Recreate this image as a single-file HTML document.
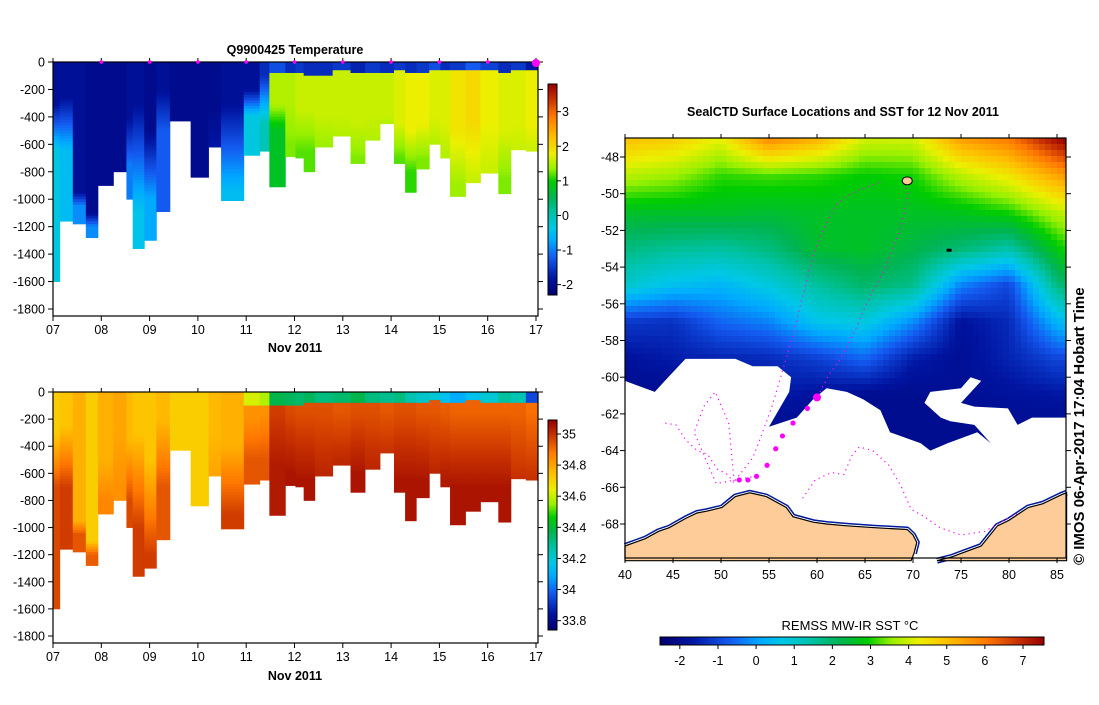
<!DOCTYPE html>
<html><head><meta charset="utf-8">
<style>
body{margin:0;background:#fff;width:1099px;height:700px;overflow:hidden;font-family:"Liberation Sans",sans-serif;}
svg text{font-family:"Liberation Sans",sans-serif;}
</style></head>
<body>
<svg id="root" width="1099" height="700" xmlns="http://www.w3.org/2000/svg">
  <rect x="0" y="0" width="1099" height="700" fill="#fff"/>
  <g id="temp"></g>
  <g id="sal"></g>
  <g id="map"></g>
  <text x="295" y="54" font-size="12.5" font-weight="bold" text-anchor="middle">Q9900425  Temperature</text>
  <text x="843" y="116" font-size="12.5" font-weight="bold" text-anchor="middle">SealCTD Surface Locations and SST for 12 Nov 2011</text>
  <text x="295" y="352" font-size="12.5" font-weight="bold" text-anchor="middle">Nov 2011</text>
  <text x="295" y="680" font-size="12.5" font-weight="bold" text-anchor="middle">Nov 2011</text>
  <text x="850" y="630" font-size="13" text-anchor="middle">REMSS MW-IR SST °C</text>
  <text transform="translate(1084,565) rotate(-90)" font-size="15" font-weight="bold">© IMOS 06-Apr-2017 17:04 Hobart Time</text>
</svg>
<script>
// ---------- data: sections ----------
const profileStart = [7.00,7.14,7.41,7.68,7.93,8.25,8.52,8.65,8.89,9.14,9.42,9.85,10.22,10.48,10.95,11.28,11.48,11.81,12.02,12.19,12.42,12.79,13.16,13.46,13.77,14.06,14.29,14.52,14.79,15.02,15.22,15.54,15.85,16.22,16.48,16.79];
const profileEnd   = [7.14,7.41,7.68,7.93,8.25,8.52,8.65,8.89,9.14,9.42,9.85,10.22,10.48,10.95,11.28,11.48,11.81,12.02,12.19,12.42,12.79,13.16,13.46,13.77,14.06,14.29,14.52,14.79,15.02,15.22,15.54,15.85,16.22,16.48,16.79,17.03];
const maxDepth = [1600,1160,1180,1280,900,800,1000,1360,1300,1090,430,840,620,1010,680,650,910,690,700,800,620,540,740,570,450,740,950,780,600,700,980,880,810,960,640,650];
// temperature: surface layer temp, surface layer thickness, upper temp, deep temp, transition start, transition end
const tSurf  = [-1.9,-1.9,-1.9,-2.0,-2.0,-2.0,-1.9,-1.9,-2.0,-1.9,-2.0,-2.0,-2.0,-1.9,-1.9,-1.6,-1.3,-1.6,-1.5,-1.6,-1.6,-1.5,-1.7,-1.5,-1.6,-1.5,-1.6,-1.5,-1.3,-1.6,-1.5,-1.2,-1.4,-1.6,-1.5,-1.8];
const tSurfD = [0,0,0,0,0,0,0,0,0,0,0,0,0,0,0,60,90,80,80,100,100,70,90,80,80,70,90,90,60,70,60,55,70,80,60,60];
const tUpper = [-1.9,-1.9,-1.9,-2.0,-2.0,-2.0,-1.9,-1.9,-2.0,-1.9,-2.0,-2.0,-2.0,-1.9,-1.9,-1.6,1.5,1.5,1.6,1.6,1.6,1.6,1.6,1.6,1.6,1.7,1.8,1.8,1.7,1.7,1.9,2.0,1.8,1.7,1.7,1.8];
const tDeep  = [-0.3,-0.5,-0.9,-0.9,-2.0,-2.0,-1.0,-0.4,-0.7,-1.2,-2.0,-2.0,-1.8,-0.5,-0.3,0.0,0.8,1.3,1.2,1.2,1.4,1.5,1.3,1.5,1.5,1.2,1.1,1.3,1.5,1.5,1.4,1.6,1.6,1.3,1.6,1.6];
const tD1 = [300,250,950,1100,900,800,400,300,500,200,430,840,350,300,200,100,300,300,350,350,400,400,450,400,400,450,500,450,400,450,500,450,450,500,450,450];
const tD2 = [650,650,1050,1200,950,850,750,1100,1000,500,450,860,600,950,400,450,500,600,650,650,600,540,700,570,450,700,800,700,600,700,900,850,800,850,640,650];
// salinity
const sSurf  = [34.72,34.72,34.76,34.72,34.76,34.76,34.72,34.70,34.70,34.72,34.70,34.70,34.72,34.74,34.62,34.58,34.38,34.36,34.34,34.36,34.32,34.34,34.38,34.32,34.30,34.32,34.26,34.22,34.20,34.15,34.10,34.15,34.20,34.28,34.25,33.95];
const sSurfD = [0,0,0,0,0,0,0,0,0,0,0,0,0,0,100,110,110,100,100,90,90,80,90,80,80,80,90,80,70,80,80,70,80,90,80,90];
const sUpper = [34.72,34.74,34.78,34.72,34.78,34.80,34.76,34.74,34.74,34.76,34.72,34.72,34.76,34.78,34.84,34.84,34.98,34.96,34.95,34.95,34.95,34.94,34.95,34.95,34.94,34.95,34.95,34.94,34.94,34.93,34.92,34.92,34.92,34.92,34.92,34.90];
const sDeep  = [34.96,34.98,34.94,34.93,34.86,34.84,34.96,34.98,34.98,34.94,34.72,34.72,34.80,34.98,34.94,34.94,35.04,35.05,35.05,35.05,35.02,35.02,35.05,35.02,35.00,35.05,35.05,35.05,35.02,35.04,35.05,35.05,35.05,35.05,35.00,35.00];
const sD1 = [300,250,950,1100,500,300,350,300,500,200,430,840,300,400,200,150,150,150,150,150,150,150,150,150,150,150,150,150,150,150,150,150,150,150,150,150];
const sD2 = [700,700,1050,1200,800,700,800,1000,1200,700,430,840,600,900,500,500,550,600,650,650,600,540,600,570,450,650,650,650,600,650,700,700,700,700,640,650];
const dayTicks = ["07","08","09","10","11","12","13","14","15","16","17"];
const depthTicks = [0,-200,-400,-600,-800,-1000,-1200,-1400,-1600,-1800];
const tempCbTicks = [3,2,1,0,-1,-2];
const salCbTicks = ["35","34.8","34.6","34.4","34.2","34","33.8"];
const markerDays = [8,9,10,11,12,13,14,15,16];

// ---------- data: map ----------
const gridLons = [40,45,50,55,60,65,70,75,80,85,86];
const gridLats = [-47,-49,-51,-53,-55,-57,-59,-61,-63,-70];
const sstGrid = [
 [5.0,4.8,4.2,5.8,5.2,4.0,4.0,5.5,6.0,7.4,7.6],
 [3.8,3.6,3.1,3.2,3.1,2.9,3.0,3.8,4.4,5.4,5.6],
 [2.6,2.6,2.6,2.5,2.6,2.6,2.6,2.7,3.0,3.8,3.9],
 [1.8,1.6,1.5,1.8,2.5,2.6,2.3,1.9,1.4,2.8,3.0],
 [1.0,0.5,0.3,0.8,1.5,2.0,1.7,-0.3,-1.0,1.8,2.0],
 [-1.2,-1.3,-0.6,-0.3,0.6,0.8,-0.2,-1.8,-1.4,0.3,0.5],
 [-1.8,-1.6,-1.5,-1.4,-1.1,-0.6,-1.6,-1.9,-1.5,-1.0,-1.0],
 [-2.0,-2.0,-2.0,-1.6,-1.8,-2.0,-2.0,-1.9,-1.8,-1.7,-1.7],
 [-2.0,-2.0,-2.0,-2.0,-2.0,-2.0,-2.0,-2.0,-2.0,-2.0,-2.0],
 [-2.0,-2.0,-2.0,-2.0,-2.0,-2.0,-2.0,-2.0,-2.0,-2.0,-2.0]];
const iceLon = [40,43.1,44.5,46.3,51.5,53.3,55.9,57.3,57.1,55,57.9,59.6,61,63.1,64.8,66.6,67.6,70.8,71.8,73.6,76.7,78.1,76.4,73.9,72.9,71.2,71.8,75,76,77.1,75,76.4,79.9,80.9,82.4,86,86,40];
const iceLat = [-60.2,-60.8,-60,-59,-59,-59.4,-59.4,-60,-60.8,-62.7,-62.2,-61.2,-60.6,-60.8,-61.2,-61.8,-63,-63.6,-64,-63.6,-63,-63.6,-62.6,-62.4,-62.2,-61.4,-60.8,-60.6,-60,-60.2,-61.4,-61.6,-61.7,-62.6,-62.2,-62.2,-70,-70];
const landALon = [40,42.1,43.5,44.6,46.3,47.5,48.5,50.1,51.5,53,54.7,56.8,57.5,59.6,61,63.1,66,69.4,70.0,70.4,70.1,69.8,40];
const landALat = [-69.2,-68.8,-68.4,-68.2,-67.7,-67.4,-67.3,-67.1,-66.5,-66.3,-66.5,-67.1,-67.6,-67.9,-68.0,-68.1,-68.2,-68.3,-68.6,-69.0,-69.6,-70,-70];
const landBLon = [72.5,74,75,77.1,78.8,80,82,83.5,85.5,86,86,72.5];
const landBLat = [-70,-69.8,-69.6,-69.2,-68.1,-67.8,-67.1,-66.9,-66.4,-66.3,-70,-70];
const floatLon = [60.0,59.0,57.5,56.4,55.7,54.8,53.7,52.8,51.9];
const floatLat = [-61.1,-61.7,-62.5,-63.2,-63.9,-64.8,-65.4,-65.6,-65.6];
const trackALon = [60.3,61.2,62.3,63.3,64.1,64.8,65.6,66.6,67.5,68.2,68.8,69.2,69.5,69.1];
const trackALat = [-60.8,-59.9,-59.1,-58.2,-57.3,-56.4,-55.5,-54.6,-53.6,-52.6,-51.7,-50.8,-50.0,-49.5];
const trackBLon = [51.8,53.3,54.2,55.3,56.5,57.6,58.5,59.3,59.7,60.3,61.3,62.0,63.0,64.3,65.5,66.8];
const trackBLat = [-65.4,-64.4,-63.2,-61.6,-59.5,-57.5,-55.6,-54.0,-53.2,-52.4,-51.3,-50.6,-50.2,-49.8,-49.6,-49.3];
const trackCLon = [58.5,59.8,61.5,62.8,63.6,64.4,65.8,67.5,68.8,69.8,71.2,72.8,75,77.5,79.5,81];
const trackCLat = [-66.6,-65.6,-65.2,-65.3,-64.3,-63.8,-64.0,-64.8,-66.0,-67.2,-67.6,-68.2,-68.6,-68.4,-67.8,-67.4];
const trackDLon = [44.2,45.3,46.3,47.5,48.6,49.6,50.7,51.4,50.8,49.4,48.2,47.2,49.5,51.5,53.5];
const trackDLat = [-62.5,-62.6,-63.4,-64.0,-64.2,-65.0,-65.3,-65.8,-62.5,-60.8,-61.6,-63.0,-65.8,-65.6,-65.4];
const latTicks = [-48,-50,-52,-54,-56,-58,-60,-62,-64,-66,-68];
const lonTicks = [40,45,50,55,60,65,70,75,80,85];
const sstCbTicks = [-2,-1,0,1,2,3,4,5,6,7];

// ---------- helpers ----------
const NS = "http://www.w3.org/2000/svg";
const cmapStops = [[0,[0,0,110]],[0.08,[0,20,160]],[0.18,[20,90,240]],[0.26,[0,170,255]],[0.32,[0,200,230]],[0.39,[0,195,170]],[0.47,[0,180,80]],[0.54,[0,205,0]],[0.60,[150,240,0]],[0.67,[235,240,0]],[0.75,[255,190,0]],[0.85,[255,120,0]],[0.93,[200,50,0]],[1,[150,0,0]]];
function cmap(f){
  f=Math.max(0,Math.min(1,f));
  for(let i=1;i<cmapStops.length;i++){
    if(f<=cmapStops[i][0]){
      const a=cmapStops[i-1],b=cmapStops[i];const t=(f-a[0])/(b[0]-a[0]);
      return "rgb("+a[1].map((v,k)=>Math.round(v+(b[1][k]-v)*t)).join(",")+")";
    }
  }
  return "rgb(150,0,0)";
}
function el(tag,attrs,parent){const e=document.createElementNS(NS,tag);for(const k in attrs)e.setAttribute(k,attrs[k]);parent.appendChild(e);return e;}
function prof(z,i,s,sd,u,d,d1,d2){
  if(z<sd[i])return s[i];
  if(z<d1[i])return u[i];
  if(z<d2[i])return u[i]+(d[i]-u[i])*(z-d1[i])/(d2[i]-d1[i]);
  return d[i];
}

function section(g,top,bot,vmin,vmax,vals,cbTop,cbBot,cbLabels,cbLabelVal){
  const x0=53,x1=538,xDay=d=>53+(d-7)*48.3;
  const yScale=(bot-top-7)/1800;
  const yDep=z=>top+z*yScale;
  const [s,sd,u,d,d1,d2]=vals;
  for(let i=0;i<profileStart.length;i++){
    const xa=xDay(profileStart[i]),xb=xDay(Math.min(profileEnd[i],17.03));
    for(let z=0;z<maxDepth[i];z+=20){
      const v=prof(z+10,i,s,sd,u,d,d1,d2);
      const r=el("rect",{x:xa.toFixed(2),y:yDep(z).toFixed(2),width:(xb-xa+0.4).toFixed(2),height:(Math.min(20,maxDepth[i]-z)*yScale+0.4).toFixed(2),fill:cmap((v-vmin)/(vmax-vmin))},g);
      
      
    }
  }
  el("rect",{x:x0,y:top,width:x1-x0,height:bot-top,fill:"none",stroke:"#000","stroke-width":1.2},g);
  dayTicks.forEach((t,k)=>{
    const x=xDay(7+k);
    el("line",{x1:x,y1:bot,x2:x,y2:bot+5,stroke:"#000"},g);
    el("line",{x1:x,y1:top,x2:x,y2:top-4,stroke:"#000"},g);
    const tx=el("text",{x:x,y:bot+18,"font-size":12.5,"text-anchor":"middle"},g);tx.textContent=t;
    
  });
  depthTicks.forEach(v=>{
    const y=yDep(-v);
    el("line",{x1:x0-5,y1:y,x2:x0,y2:y,stroke:"#000"},g);
    el("line",{x1:x1,y1:y,x2:x1+5,y2:y,stroke:"#000"},g);
    const tx=el("text",{x:x0-8,y:y+4.5,"font-size":12.5,"text-anchor":"end"},g);tx.textContent=v;
    
  });
  const cx=548,cw=9;
  for(let y=cbTop;y<cbBot;y+=1){
    const v=vmax-(y-cbTop)/(cbBot-cbTop)*(vmax-vmin);
    el("rect",{x:cx,y:y,width:cw,height:1.2,fill:cmap((v-vmin)/(vmax-vmin))},g);
  }
  const cb=el("rect",{x:cx,y:cbTop,width:cw,height:cbBot-cbTop,fill:"none",stroke:"#000"},g);
  
  cbLabels.forEach((lab,k)=>{
    const v=cbLabelVal[k];
    const y=cbTop+(vmax-v)/(vmax-vmin)*(cbBot-cbTop);
    el("line",{x1:cx+cw,y1:y,x2:cx+cw+4,y2:y,stroke:"#000"},g);
    const tx=el("text",{x:cx+cw+5,y:y+4.5,"font-size":12.5},g);tx.textContent=lab;
    
  });
}
section(document.getElementById("temp"),62,316,-2.3,3.8,[tSurf,tSurfD,tUpper,tDeep,tD1,tD2],84,295,tempCbTicks.map(String),tempCbTicks);
section(document.getElementById("sal"),392,643,33.74,35.09,[sSurf,sSurfD,sUpper,sDeep,sD1,sD2],420,630,salCbTicks,salCbTicks.map(Number));

const tg=document.getElementById("temp");
markerDays.forEach(d=>{
  const m=el("circle",{cx:53+(d-7)*48.3,cy:62,r:1.8,fill:"#ff00ff"},tg);
  
  
});
const big=el("circle",{cx:536,cy:63,r:4,fill:"#ff00ff"},tg);



// ---------- map ----------
const mg=document.getElementById("map");
const MX0=625,MX1=1066,MY0=138,MY1=558;
const lonX=lon=>625+(lon-40)*9.6;
const latY=lat=>157+(-48-lat)*18.35;
function interp(arr,v){for(let i=1;i<arr.length;i++){const a=arr[i-1],b=arr[i];if((v-a)*(v-b)<=0)return [i-1,(v-a)/(b-a)];}return [arr.length-2,1];}
function sstAt(lon,lat){
  const [i,fx]=interp(gridLons,lon),[j,fy]=interp(gridLats,lat);
  const a=sstGrid[j][i],b=sstGrid[j][i+1],c=sstGrid[j+1][i],d=sstGrid[j+1][i+1];
  return (a*(1-fx)+b*fx)*(1-fy)+(c*(1-fx)+d*fx)*fy;
}
const cell=6;
const sstMin=-2.52,sstMax=7.55;
for(let y=MY0;y<MY1;y+=cell){
  for(let x=MX0;x<MX1;x+=cell){
    const lon=40+(x+cell/2-625)/9.6,lat=-48-(y+cell/2-157)/18.35;
    const r=el("rect",{x:x,y:y,width:Math.min(cell,MX1-x)+0.3,height:Math.min(cell,MY1-y)+0.3,fill:cmap((sstAt(lon,lat)-sstMin)/(sstMax-sstMin))},mg);
    
  }
}
function poly(lons,lats){return lons.map((l,k)=>lonX(l).toFixed(1)+","+latY(lats[k]).toFixed(1)).join(" ");}
const ice=el("polygon",{points:poly(iceLon,iceLat),fill:"#fff"},mg);


[[landALon,landALat],[landBLon,landBLat]].forEach(([lo,la])=>{
  const n=lo.length-2;
  el("polyline",{points:poly(lo.slice(0,n),la.slice(0,n)),fill:"none",stroke:"#001a9a","stroke-width":6,"stroke-linejoin":"round"},mg);
  el("polyline",{points:poly(lo.slice(0,n),la.slice(0,n)),fill:"none",stroke:"#fff","stroke-width":3,"stroke-linejoin":"round"},mg);
});
[[landALon,landALat],[landBLon,landBLat]].forEach(([lo,la])=>{
  const p=el("polygon",{points:poly(lo,la),fill:"#fdcc99",stroke:"#000","stroke-width":1.2},mg);
  
  
});
el("ellipse",{cx:lonX(69.4),cy:latY(-49.3),rx:5,ry:4,fill:"#fdcc99",stroke:"#000","stroke-width":1},mg);
el("rect",{x:lonX(73.5),y:latY(-53),width:5,height:3,fill:"#000"},mg);
[[trackALon,trackALat],[trackBLon,trackBLat],[trackCLon,trackCLat],[trackDLon,trackDLat]].forEach(([lo,la])=>{
  const t=el("polyline",{points:poly(lo,la),fill:"none",stroke:"#ff00ff","stroke-width":1.2,"stroke-dasharray":"1.2 4"},mg);
  
  
});
floatLon.forEach((lo,k)=>{
  const c=el("circle",{cx:lonX(lo),cy:latY(floatLat[k]),r:k===0?4:2.6,fill:"#ff00ff"},mg);
  
  
});
el("rect",{x:MX0,y:MY0,width:MX1-MX0,height:MY1-MY0,fill:"none",stroke:"#000","stroke-width":1.2},mg);
latTicks.forEach(v=>{
  const y=latY(v);
  el("line",{x1:MX0-5,y1:y,x2:MX0,y2:y,stroke:"#000"},mg);
  el("line",{x1:MX1,y1:y,x2:MX1+5,y2:y,stroke:"#000"},mg);
  const t=el("text",{x:MX0-6,y:y+4.5,"font-size":12.5,"text-anchor":"end"},mg);t.textContent=v;
  
});
lonTicks.forEach(v=>{
  const x=lonX(v);
  el("line",{x1:x,y1:MY1,x2:x,y2:MY1+5,stroke:"#000"},mg);
  el("line",{x1:x,y1:MY0,x2:x,y2:MY0-4,stroke:"#000"},mg);
  const t=el("text",{x:x,y:MY1+21,"font-size":12.5,"text-anchor":"middle"},mg);t.textContent=v;
  
});
const CB0=660,CB1=1044,cby=637;
for(let x=CB0;x<CB1;x++){
  const v=sstMin+(x-CB0)/(CB1-CB0)*(sstMax-sstMin);
  el("rect",{x:x,y:cby,width:1.2,height:8,fill:cmap((v-sstMin)/(sstMax-sstMin))},mg);
}
el("rect",{x:CB0,y:cby,width:CB1-CB0,height:8,fill:"none",stroke:"#000"},mg);
sstCbTicks.forEach(v=>{
  const x=CB0+(v-sstMin)/(sstMax-sstMin)*(CB1-CB0);
  el("line",{x1:x,y1:cby+8,x2:x,y2:cby+12,stroke:"#000"},mg);
  const t=el("text",{x:x,y:cby+28,"font-size":12.5,"text-anchor":"middle"},mg);t.textContent=v;
  
});
</script>
</body></html>
